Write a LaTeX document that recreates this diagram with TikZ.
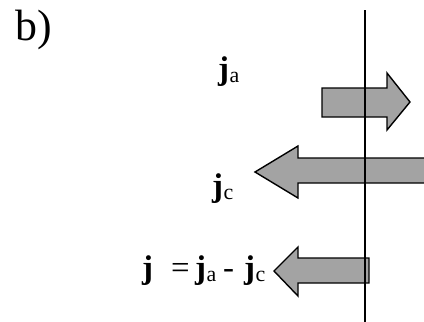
\documentclass[tikz,border=0pt]{standalone}
\usepackage{fontspec}
\setmainfont{Liberation Serif}
\newcommand\jsym[1]{\textbf{j}\kern0.5pt\raisebox{-4pt}{\fontsize{22}{22}\selectfont #1}}
\begin{document}
\begin{tikzpicture}[x=1bp,y=-1bp,
  flux/.style={draw=black,line width=1.4bp,fill=black!36,line join=miter},
  lbl/.style={anchor=base west,inner sep=0pt,font=\fontsize{33}{33}\selectfont},
  wall/.style={line width=1.1bp}]
\useasboundingbox (0,0) rectangle (424,322);
% arrows
\path[flux] (322,88) -- (387,88) -- (387,73) -- (410,102) -- (387,130) -- (387,117) -- (322,117) -- cycle;
\path[flux] (428,158) -- (298,158) -- (298,146) -- (255,172) -- (298,198) -- (298,183) -- (428,183);
\path[flux] (369,258) -- (298,258) -- (298,247) -- (274,271) -- (298,296) -- (298,283) -- (369,283) -- cycle;
% membrane line
\coordinate (top) at (365,10);
\coordinate (bot) at (365,322);
\draw[wall] (top) -- (bot);
% labels
\node[anchor=base west,inner sep=0pt,font=\fontsize{44}{44}\selectfont] (b) at (15,40) {b)};
\node[lbl] (ja) at (218,79) {\jsym{a}};
\node[lbl] (jc) at (212,196) {\jsym{c}};
\node[lbl] (j) at (142,278) {\textbf{j}};
\node[lbl] (eq) at (171,278) {=};
\node[lbl] (j1) at (195,278) {\jsym{a}};
\node[lbl] (mi) at (223,278) {-};
\node[lbl] (j2) at (244,278) {\jsym{c}};
\end{tikzpicture}
\end{document}
